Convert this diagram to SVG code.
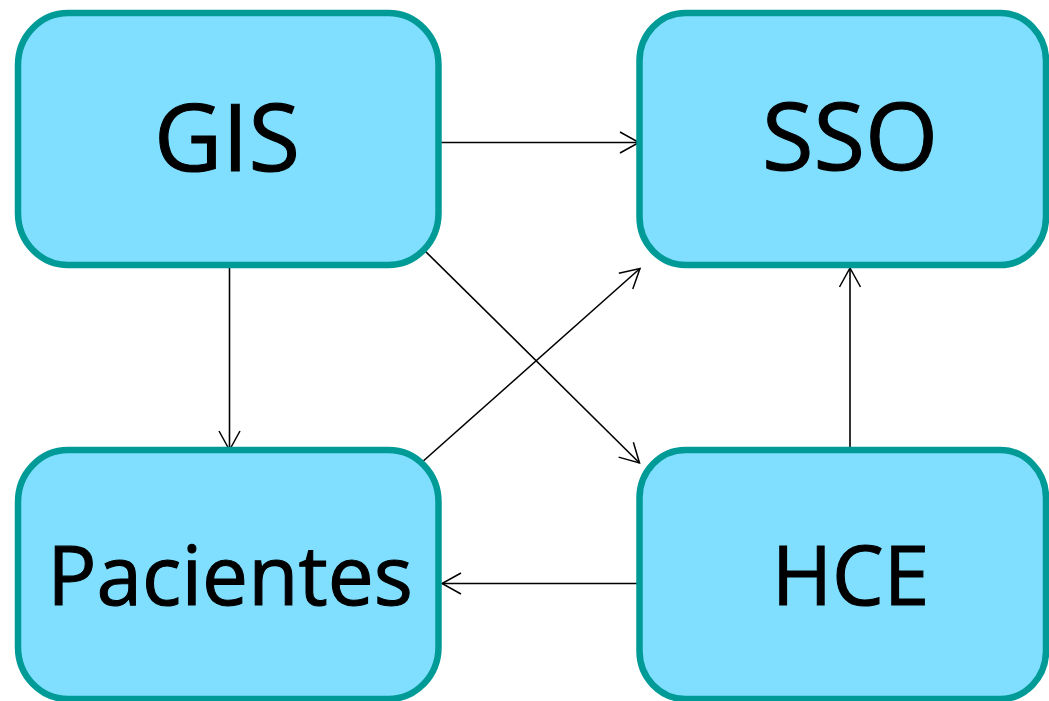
<svg xmlns="http://www.w3.org/2000/svg" width="1049" height="701" viewBox="0 0 1049 701">
  <style>
    .box { fill: #80dfff; stroke: #009b97; stroke-width: 6.5; }
    .label { font-family: "Open Sans", "Liberation Sans", sans-serif; fill: #000; stroke: #000; stroke-width: 1.1; text-anchor: middle; }
    .big { font-size: 94px; }
    .small { font-size: 82px; }
    .edge { fill: none; stroke: #000; stroke-width: 1.6; marker-end: url(#arrow); }
  </style>
  <defs>
    <marker id="arrow" markerUnits="userSpaceOnUse" viewBox="-22 -13 24 26" markerWidth="24" markerHeight="26" refX="0" refY="0" orient="auto">
      <path d="M-19,-10.5 L0,0 L-19,10.5" fill="none" stroke="#000" stroke-width="1.5"/>
    </marker>
  </defs>
  <rect width="1049" height="701" fill="#fff"/>

  <!-- connectors between the four systems -->
  <g id="connectors">
    <line class="edge" x1="440" y1="142.5" x2="639" y2="142.5"/>
    <line class="edge" x1="229.5" y1="267" x2="229.5" y2="450"/>
    <line class="edge" x1="420" y1="246" x2="639.5" y2="463"/>
    <line class="edge" x1="421" y1="463" x2="640" y2="268.5"/>
    <line class="edge" x1="850" y1="451" x2="850" y2="268"/>
    <line class="edge" x1="640" y1="583.5" x2="442" y2="583.5"/>
  </g>

  <g id="node-gis">
    <rect class="box" x="18" y="13" width="420.5" height="252" rx="50" ry="52"/>
    <text class="label big" x="227" y="171">GIS</text>
  </g>
  <g id="node-sso">
    <rect class="box" x="639.5" y="13" width="406.5" height="252" rx="46" ry="48"/>
    <text class="label big" x="850" y="170">SSO</text>
  </g>
  <g id="node-pacientes">
    <rect class="box" x="18" y="450" width="420.5" height="249" rx="50" ry="52"/>
    <text class="label small" x="230" y="605">Pacientes</text>
  </g>
  <g id="node-hce">
    <rect class="box" x="639.5" y="450" width="406.5" height="249" rx="46" ry="48"/>
    <text class="label small" x="850.5" y="605">HCE</text>
  </g>
</svg>
